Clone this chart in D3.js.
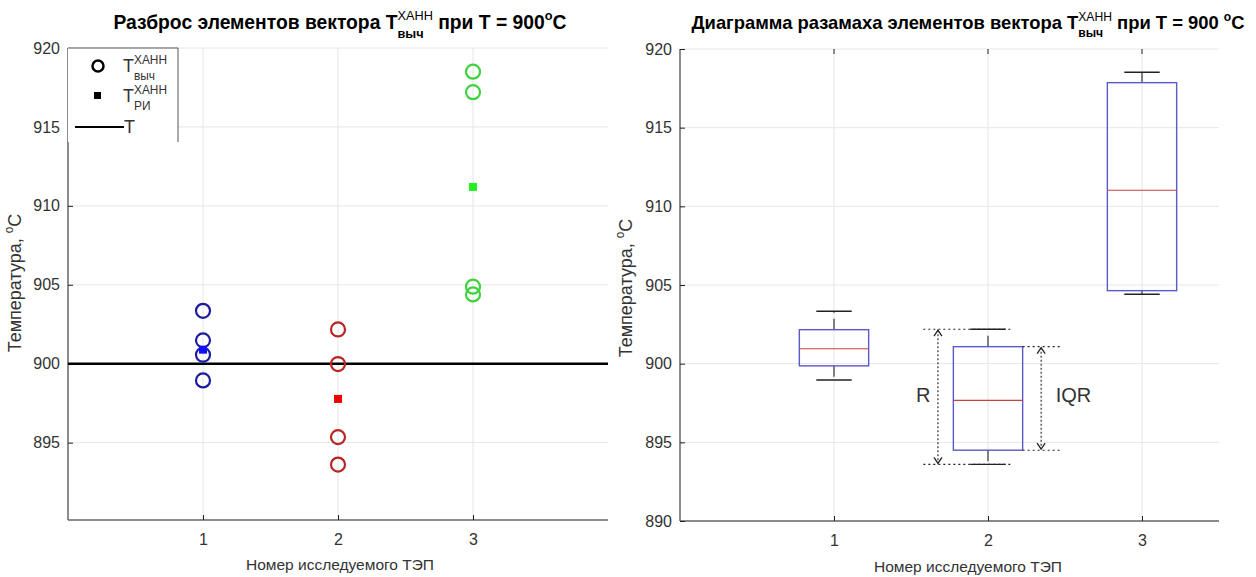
<!DOCTYPE html>
<html>
<head>
<meta charset="utf-8">
<script src="https://cdn.jsdelivr.net/npm/d3@7"></script>
<style>
  body { margin: 0; background: #fff; }
  svg text { font-family: "Liberation Sans", Arial, sans-serif; white-space: pre; }
</style>
</head>
<body>
<div id="chart"></div>
<script>
// ---- data ----
var tepIds = [1, 2, 3];
var tCalc1 = [903.35, 901.48, 900.57, 898.94];
var tCalc2 = [902.17, 899.98, 895.35, 893.61];
var tCalc3 = [918.5, 917.2, 904.88, 904.39];
var tRi = [900.89, 897.77, 911.2];
var tRef = 900;

var boxMin = [898.96, 893.6, 904.41];
var boxQ1 = [899.86, 894.5, 904.64];
var boxMed = [900.95, 897.67, 911.02];
var boxQ3 = [902.16, 901.08, 917.86];
var boxMax = [903.33, 902.19, 918.52];

var yTicksLeft = [895, 900, 905, 910, 915, 920];
var yTicksRight = [890, 895, 900, 905, 910, 915, 920];

// styles
var calcColors = ['#1c1ca0', '#bb2424', '#3fd23f'];
var riColors = ['#1010ff', '#ee0000', '#22ee22'];
var axisColor = '#666';
var textColor = '#333';
var gridColor = '#e6e6e6';

var svg = d3.select('#chart').append('svg')
    .attr('width', 1256)
    .attr('height', 577);

/**
 * writes text with stacked super/subscripts, pieces laid out left to right
 */
function richText(parent, pieces, x, y, size, weight, anchor) {
    var g = parent.append('g');
    var inner = g.append('g');
    var cx = 0;
    pieces.forEach(function (p) {
        if (p.sup !== undefined || p.sub !== undefined) {
            var w = 0;
            if (p.sup !== undefined) {
                var ts = inner.append('text').attr('x', cx).attr('y', -size * 0.45)
                    .attr('font-size', size * 0.66).attr('font-weight', p.supWeight || 'normal')
                    .attr('fill', p.color || '#000').text(p.sup);
                w = Math.max(w, ts.node().getComputedTextLength());
            }
            if (p.sub !== undefined) {
                var tb = inner.append('text').attr('x', cx).attr('y', size * 0.45)
                    .attr('font-size', size * 0.66).attr('font-weight', p.subWeight || 'normal')
                    .attr('fill', p.color || '#000').text(p.sub);
                w = Math.max(w, tb.node().getComputedTextLength());
            }
            cx += w;
        } else {
            var t = inner.append('text').attr('x', cx).attr('y', 0)
                .attr('font-size', size).attr('font-weight', weight)
                .attr('fill', p.color || '#000').text(p.t);
            cx += t.node().getComputedTextLength();
        }
    });
    var shift = anchor === 'middle' ? -cx / 2 : (anchor === 'end' ? -cx : 0);
    inner.attr('transform', 'translate(' + shift + ',0)');
    g.attr('transform', 'translate(' + x + ',' + y + ')');
    return g;
}

function drawFrame(g, x, y, xTicks, yTicks) {
    var x0 = x.range()[0], x1 = x.range()[1];
    var y0 = y.range()[0], y1 = y.range()[1];

    // grid
    g.append('g').selectAll('line.vg').data(xTicks).enter().append('line')
        .attr('x1', function (d) { return x(d); }).attr('x2', function (d) { return x(d); })
        .attr('y1', y0).attr('y2', y1)
        .attr('stroke', gridColor).attr('stroke-width', 1);
    g.append('g').selectAll('line.hg').data(yTicks).enter().append('line')
        .attr('x1', x0).attr('x2', x1)
        .attr('y1', function (d) { return y(d); }).attr('y2', function (d) { return y(d); })
        .attr('stroke', gridColor).attr('stroke-width', 1);

    // axes: ticks drawn inward, as in matlab
    var xAxis = d3.axisBottom(x).tickValues(xTicks).tickSize(-5).tickPadding(14).tickFormat(d3.format('d'));
    var yAxis = d3.axisLeft(y).tickValues(yTicks).tickSize(-5).tickPadding(8).tickFormat(d3.format('d'));

    var xg = g.append('g').attr('transform', 'translate(0,' + y0 + ')').call(xAxis);
    var yg = g.append('g').attr('transform', 'translate(' + x0 + ',0)').call(yAxis);
    [xg, yg].forEach(function (a) {
        a.select('.domain').attr('stroke', axisColor).attr('stroke-width', 1.5);
        a.selectAll('.tick line').attr('stroke', '#222');
        a.selectAll('.tick text').attr('fill', textColor).attr('font-size', 16)
            .attr('font-family', '"Liberation Sans", Arial, sans-serif');
    });
    xg.select('.domain').attr('d', 'M' + x0 + ',0H' + x1);
    yg.select('.domain').attr('d', 'M0,' + y0 + 'V' + y1);
}

function drawLabels(g, cx, titlePieces, titleSize, yLabelX, yLabelY, xLabelY) {
    richText(g, titlePieces, cx, 29, titleSize, 'bold', 'middle');
    g.append('text')
        .attr('x', cx).attr('y', xLabelY)
        .attr('text-anchor', 'middle')
        .attr('font-size', 15.5).attr('fill', textColor)
        .text('Номер исследуемого ТЭП');
    var yl = richText(g, [{t: 'Температура, ', color: textColor}, {sup: 'o', color: textColor}, {t: 'C', color: textColor}],
        0, 0, 18, 'normal', 'middle');
    yl.attr('transform', 'translate(' + yLabelX + ',' + yLabelY + ') rotate(-90)');
}

// ================= left: scatter =================
var left = svg.append('g');
var xL = d3.scaleLinear().domain([0, 4]).range([68, 608]);
var yL = d3.scaleLinear().domain([890.1, 920]).range([520, 48]);
drawFrame(left, xL, yL, tepIds, yTicksLeft);

var calcAll = [tCalc1, tCalc2, tCalc3];
var calcPts = [];
calcAll.forEach(function (vals, i) {
    vals.forEach(function (v) { calcPts.push({tep: tepIds[i], v: v, c: calcColors[i]}); });
});

left.append('line')
    .attr('x1', xL.range()[0]).attr('x2', xL.range()[1])
    .attr('y1', yL(tRef)).attr('y2', yL(tRef))
    .attr('stroke', '#000').attr('stroke-width', 2.5);

left.append('g').selectAll('circle').data(calcPts).enter().append('circle')
    .attr('cx', function (d) { return xL(d.tep); })
    .attr('cy', function (d) { return yL(d.v); })
    .attr('r', 7)
    .attr('fill', 'none')
    .attr('stroke', function (d) { return d.c; })
    .attr('stroke-width', 2.2);

left.append('g').selectAll('rect').data(tRi).enter().append('rect')
    .attr('x', function (d, i) { return xL(tepIds[i]) - 4; })
    .attr('y', function (d) { return yL(d) - 4; })
    .attr('width', 8).attr('height', 8)
    .attr('fill', function (d, i) { return riColors[i]; });

// legend
var leg = left.append('g');
leg.append('rect').attr('x', 68).attr('y', 48).attr('width', 110).attr('height', 94).attr('fill', '#fff');
leg.append('path').attr('d', 'M68,48H178V142').attr('fill', 'none').attr('stroke', '#555').attr('stroke-width', 1);
leg.append('circle').attr('cx', 98).attr('cy', 66).attr('r', 5.5).attr('fill', 'none').attr('stroke', '#000').attr('stroke-width', 2.5);
richText(leg, [{t: 'T', color: textColor}, {sup: 'ХАНН', sub: 'выч', color: textColor}], 123, 72, 18, 'normal', 'start');
leg.append('rect').attr('x', 94).attr('y', 92).attr('width', 7).attr('height', 7).attr('fill', '#000');
richText(leg, [{t: 'T', color: textColor}, {sup: 'ХАНН', sub: 'РИ', color: textColor}], 123, 102, 18, 'normal', 'start');
leg.append('line').attr('x1', 75).attr('x2', 124).attr('y1', 127).attr('y2', 127).attr('stroke', '#000').attr('stroke-width', 2);
leg.append('text').attr('x', 124).attr('y', 133).attr('font-size', 18).attr('fill', textColor).text('T');

drawLabels(left, 340,
    [{t: 'Разброс элементов вектора T'}, {sup: 'ХАНН', sub: 'выч', subWeight: 'bold'}, {t: ' при T = 900'}, {sup: 'o', supWeight: 'bold'}, {t: 'C'}],
    19.3, 21, 283, 570);

// ================= right: box plot =================
var right = svg.append('g');
var xR = d3.scaleLinear().domain([0, 3.5]).range([680, 1219]);
var yR = d3.scaleLinear().domain([890, 920]).range([521, 49]);
drawFrame(right, xR, yR, tepIds, yTicksRight);

// small ticks along the top edge
right.append('g').selectAll('line').data(tepIds).enter().append('line')
    .attr('x1', function (d) { return xR(d); }).attr('x2', function (d) { return xR(d); })
    .attr('y1', yR(920)).attr('y2', yR(920) + 5)
    .attr('stroke', '#222');

var boxW = 0.45, capW = 0.23;
var boxes = tepIds.map(function (t, i) {
    return {tep: t, min: boxMin[i], q1: boxQ1[i], med: boxMed[i], q3: boxQ3[i], max: boxMax[i]};
});
var bg = right.append('g').selectAll('g').data(boxes).enter().append('g');

// whiskers (dashed, from box edge outwards)
bg.append('line')
    .attr('x1', function (d) { return xR(d.tep); }).attr('x2', function (d) { return xR(d.tep); })
    .attr('y1', function (d) { return yR(d.q3); }).attr('y2', function (d) { return yR(d.max); })
    .attr('stroke', '#333').attr('stroke-width', 1.2).attr('stroke-dasharray', '11,6');
bg.append('line')
    .attr('x1', function (d) { return xR(d.tep); }).attr('x2', function (d) { return xR(d.tep); })
    .attr('y1', function (d) { return yR(d.q1); }).attr('y2', function (d) { return yR(d.min); })
    .attr('stroke', '#333').attr('stroke-width', 1.2).attr('stroke-dasharray', '11,6');
['max', 'min'].forEach(function (k) {
    bg.append('line')
        .attr('x1', function (d) { return xR(d.tep - capW / 2); })
        .attr('x2', function (d) { return xR(d.tep + capW / 2); })
        .attr('y1', function (d) { return yR(d[k]); }).attr('y2', function (d) { return yR(d[k]); })
        .attr('stroke', '#222').attr('stroke-width', 1.4);
});
bg.append('rect')
    .attr('x', function (d) { return xR(d.tep - boxW / 2); })
    .attr('y', function (d) { return yR(d.q3); })
    .attr('width', xR(boxW) - xR(0))
    .attr('height', function (d) { return yR(d.q1) - yR(d.q3); })
    .attr('fill', 'none')
    .attr('stroke', '#5a5ac8').attr('stroke-width', 1.4);
bg.append('line')
    .attr('x1', function (d) { return xR(d.tep - boxW / 2); })
    .attr('x2', function (d) { return xR(d.tep + boxW / 2); })
    .attr('y1', function (d) { return yR(d.med); }).attr('y2', function (d) { return yR(d.med); })
    .attr('stroke', '#c84040').attr('stroke-width', 1.1);

// R / IQR annotation for the second box
var ann = right.append('g').attr('stroke', '#222').attr('stroke-width', 1.1).attr('fill', 'none');
var b2 = boxes[1];
function dotted(x1, x2, v) {
    ann.append('line').attr('x1', xR(x1)).attr('x2', xR(x2)).attr('y1', yR(v)).attr('y2', yR(v))
        .attr('stroke-dasharray', '2,3');
}
function dblArrow(xv, vTop, vBot) {
    var px = xR(xv), pt = yR(vTop), pb = yR(vBot);
    ann.append('line').attr('x1', px).attr('x2', px).attr('y1', pt + 1).attr('y2', pb - 1)
        .attr('stroke-dasharray', '2,2');
    ann.append('path').attr('d', 'M' + (px - 4) + ',' + (pt + 7) + 'L' + px + ',' + (pt + 1) + 'L' + (px + 4) + ',' + (pt + 7))
        .attr('stroke-width', 1.3);
    ann.append('path').attr('d', 'M' + (px - 4) + ',' + (pb - 7) + 'L' + px + ',' + (pb - 1) + 'L' + (px + 4) + ',' + (pb - 7))
        .attr('stroke-width', 1.3);
}
dotted(1.58, 2.15, b2.max);
dotted(1.58, 2.15, b2.min);
dblArrow(1.675, b2.max, b2.min);
dotted(2.225, 2.47, b2.q3);
dotted(2.225, 2.47, b2.q1);
dblArrow(2.345, b2.q3, b2.q1);

right.append('text').attr('x', xR(1.58)).attr('y', yR(898) + 7)
    .attr('text-anchor', 'middle').attr('font-size', 20).attr('fill', textColor).text('R');
right.append('text').attr('x', xR(2.44)).attr('y', yR(898) + 7)
    .attr('font-size', 20).attr('fill', textColor).text('IQR');

drawLabels(right, 968,
    [{t: 'Диаграмма разамаха элементов вектора T'}, {sup: 'ХАНН', sub: 'выч', subWeight: 'bold'}, {t: ' при T = 900 '}, {sup: 'o', supWeight: 'bold'}, {t: 'C'}],
    18.4, 632, 288, 572);
</script>
</body>
</html>
